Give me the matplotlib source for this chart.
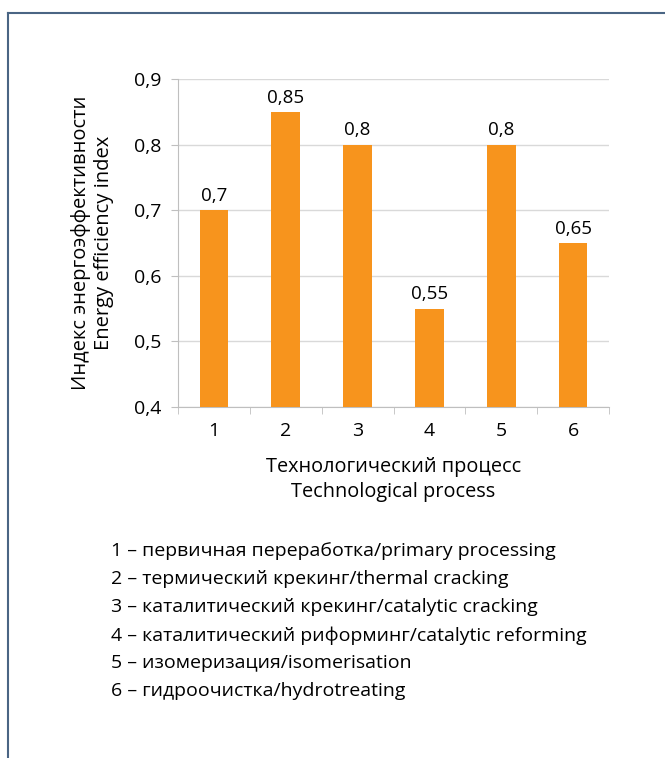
import matplotlib
matplotlib.use('Agg')
import matplotlib.pyplot as plt
from matplotlib.lines import Line2D

plt.rcParams['font.family'] = ['Open Sans', 'DejaVu Sans']

# data
categories = ['1', '2', '3', '4', '5', '6']
values = [0.70, 0.85, 0.80, 0.55, 0.80, 0.65]
value_labels = ['0,7', '0,85', '0,8', '0,55', '0,8', '0,65']
yticks = [0.4, 0.5, 0.6, 0.7, 0.8, 0.9]
ytick_labels = ['0,4', '0,5', '0,6', '0,7', '0,8', '0,9']
legend_lines = [
    '1 – первичная переработка/primary processing',
    '2 – термический крекинг/thermal cracking',
    '3 – каталитический крекинг/catalytic cracking',
    '4 – каталитический риформинг/catalytic reforming',
    '5 – изомеризация/isomerisation',
    '6 – гидроочистка/hydrotreating',
]

W, H = 665, 758
fig = plt.figure(figsize=(W / 100, H / 100), dpi=100)

# frame around the figure (left and top only visible)
fig.add_artist(Line2D([8 / W, 8 / W], [0, 1 - 13 / H], color='#4a6584', lw=1.5))
fig.add_artist(Line2D([8 / W, 1], [1 - 13 / H, 1 - 13 / H], color='#4a6584', lw=1.5))

ax = fig.add_axes([178 / W, 1 - 407 / H, (609 - 178) / W, (407 - 79) / H])
x = list(range(len(categories)))
ax.bar(x, values, width=0.4, color='#f7941d', zorder=3)
ax.set_xlim(-0.5, len(categories) - 0.5)
ax.set_ylim(0.4, 0.9)
ax.set_yticks(yticks)
ax.set_yticklabels(ytick_labels, fontsize=14)
ax.set_xticks(x)
ax.set_xticklabels(categories, fontsize=14)
ax.tick_params(axis='x', length=0, pad=11)
ax.set_xticks([i - 0.5 for i in range(len(categories) + 1)], minor=True)
ax.tick_params(axis='x', which='minor', length=5, color='#bfbfbf')
ax.tick_params(axis='y', length=5, color='#bfbfbf', pad=7)
ax.grid(axis='y', color='#d9d9d9', lw=1, zorder=0)
for s in ['top', 'right']:
    ax.spines[s].set_visible(False)
for s in ['left', 'bottom']:
    ax.spines[s].set_color('#bfbfbf')

for xi, v, lab in zip(x, values, value_labels):
    ax.text(xi, v + 0.008, lab, ha='center', va='bottom', fontsize=13.5)

ax.set_ylabel('Индекс энергоэффективности\nEnergy efficiency index', fontsize=14.5,
              linespacing=1.25, labelpad=14)
ax.set_xlabel('Технологический процесс\nTechnological process', fontsize=14.3,
              linespacing=1.35, labelpad=12)

for i, line in enumerate(legend_lines):
    fig.text(111 / W, 1 - (551 + 28.1 * i) / H, line, fontsize=14, va='center', ha='left')

fig.savefig('out.png', dpi=100)
